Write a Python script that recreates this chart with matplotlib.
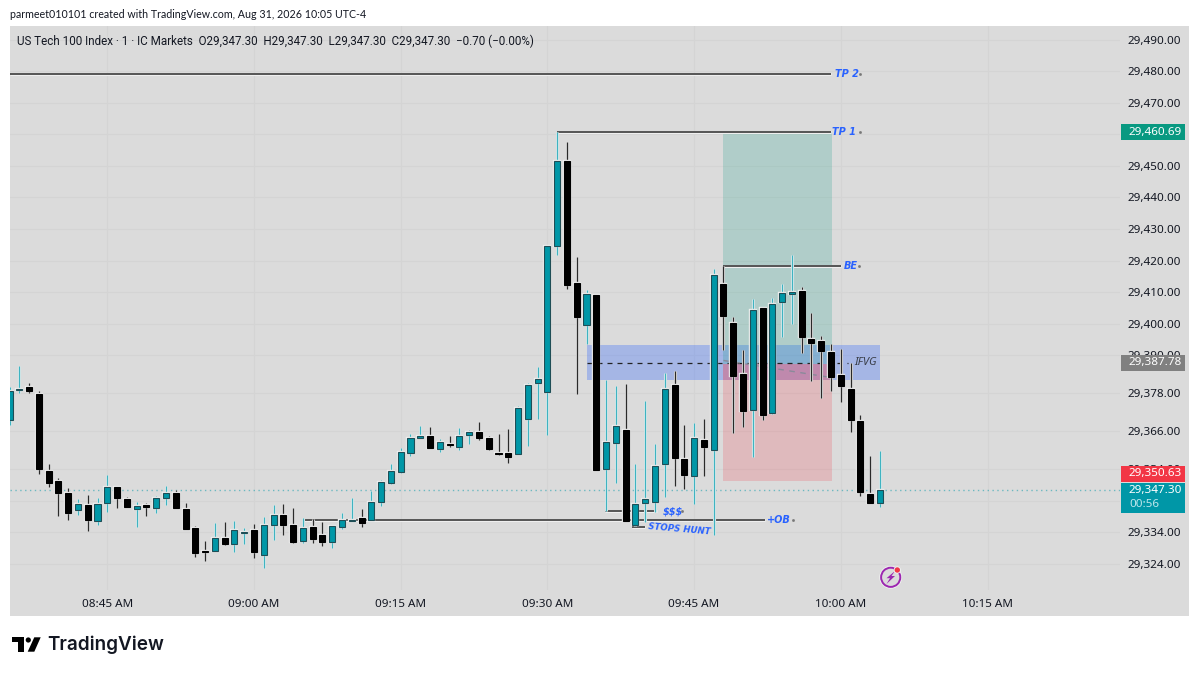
"""Grafico de candles do US Tech 100 com anotacoes, no estilo TradingView."""

import matplotlib

matplotlib.use("Agg")

import matplotlib.patheffects as pe
import matplotlib.pyplot as plt
import numpy as np
from matplotlib.patches import Circle, Polygon, Rectangle

plt.rcParams["font.family"] = ["Noto Sans", "DejaVu Sans"]

# Precos em pontos acima de 29.000, um candle por minuto a partir das 08:35.
first_minute = 515
opens = [
    369.4, 379.0, 379.9, 377.8, 353.5, 350.3, 346.4, 341.0, 342.6, 337.6,
    343.3, 348.2, 344.5, 341.5, 342.5, 341.8, 344.7, 346.4, 341.3, 335.3,
    328.1, 328.1, 332.3, 330.2, 333.8, 334.8, 326.7, 336.4, 339.6, 336.3,
    331.1, 335.7, 333.1, 330.9, 335.7, 337.6, 338.4, 337.8, 343.6, 349.7,
    353.0, 359.1, 363.7, 364.4, 360.5, 362.0, 361.1, 364.9, 365.7, 363.7,
    359.0, 359.1, 358.8, 369.8, 381.2, 378.3, 424.7, 451.7, 413.0, 399.6,
    409.2, 354.1, 362.4, 366.5, 336.2, 343.4, 343.7, 355.6, 380.6, 357.3,
    351.7, 363.2, 360.2, 412.5, 400.3, 384.0, 372.6, 404.9, 371.9, 406.9,
    409.4, 410.3, 395.3, 394.5, 391.0, 383.8, 379.4, 369.1, 346.1, 343.2,
]
highs = [
    380.1, 386.5, 381.1, 378.8, 355.5, 351.2, 347.9, 344.6, 345.8, 344.9,
    352.1, 348.2, 345.1, 343.7, 343.3, 345.4, 348.7, 347.5, 343.3, 336.0,
    331.2, 336.8, 337.2, 337.5, 335.2, 336.6, 338.7, 342.5, 342.9, 341.8,
    338.5, 338.1, 337.3, 336.0, 340.2, 344.8, 341.4, 347.0, 350.6, 355.5,
    360.8, 365.0, 367.5, 367.2, 363.6, 364.6, 366.9, 366.3, 368.8, 364.4,
    365.2, 366.7, 374.0, 381.4, 386.4, 425.1, 460.6, 457.6, 421.0, 410.8,
    409.2, 382.3, 380.2, 380.8, 355.6, 375.6, 361.8, 384.4, 385.0, 368.1,
    368.5, 370.0, 417.5, 418.2, 402.0, 391.8, 407.7, 404.9, 408.3, 412.7,
    421.8, 411.7, 403.3, 396.2, 393.6, 391.9, 387.7, 371.2, 358.1, 359.8,
]
lows = [
    368.1, 378.0, 378.0, 352.4, 348.3, 339.0, 338.0, 339.5, 334.3, 336.2,
    340.3, 341.8, 342.0, 335.6, 339.2, 340.1, 342.5, 341.8, 335.1, 326.3,
    324.9, 328.1, 330.1, 327.9, 330.4, 325.7, 322.7, 331.4, 333.0, 330.5,
    330.5, 330.5, 329.5, 329.0, 335.1, 337.6, 335.6, 337.8, 342.3, 349.3,
    352.8, 358.3, 363.7, 360.8, 359.4, 360.9, 360.0, 361.9, 363.1, 360.0,
    358.4, 356.0, 358.8, 361.4, 369.7, 364.8, 421.8, 411.1, 377.8, 393.5,
    353.8, 340.6, 349.5, 337.6, 336.0, 337.4, 340.3, 345.3, 348.7, 347.7,
    343.1, 351.7, 333.2, 391.6, 365.4, 367.2, 357.7, 369.6, 371.4, 395.7,
    399.8, 390.7, 381.8, 376.4, 378.7, 375.2, 365.7, 345.5, 343.2, 341.9,
]
closes = [
    378.8, 379.5, 378.8, 354.0, 349.6, 346.4, 340.2, 342.8, 337.9, 343.0,
    348.4, 344.7, 342.1, 342.3, 341.9, 344.7, 346.4, 341.8, 335.1, 327.5,
    327.8, 332.3, 330.2, 334.6, 334.2, 327.7, 336.3, 339.4, 336.4, 330.8,
    335.2, 332.0, 330.9, 336.0, 337.9, 337.9, 337.0, 343.6, 350.0, 353.5,
    359.3, 364.0, 364.5, 360.8, 362.5, 361.5, 364.4, 365.9, 364.0, 360.3,
    358.7, 357.8, 373.4, 380.7, 382.4, 424.5, 451.5, 412.2, 402.1, 409.4,
    353.8, 362.6, 367.7, 337.6, 342.9, 344.6, 354.9, 379.2, 357.5, 352.2,
    363.9, 360.9, 415.3, 402.5, 383.5, 372.5, 404.5, 371.2, 406.4, 409.6,
    410.2, 395.7, 394.0, 391.4, 383.1, 380.2, 369.5, 346.6, 343.2, 347.3,
]

price_ticks = [
    29490, 29480, 29470, 29460, 29450, 29440, 29430, 29420, 29410, 29400,
    29390, 29378, 29366, 29354, 29344, 29334, 29324,
]
time_ticks = [525, 540, 555, 570, 585, 600, 615]
time_labels = ["08:45 AM", "09:00 AM", "09:15 AM", "09:30 AM", "09:45 AM", "10:00 AM", "10:15 AM"]
bold_times = ["09:00 AM", "10:00 AM"]

# Niveis desenhados sobre o grafico.
tp2_price = 29479.2
tp1_price = 29460.69
be_price = 29418.3
entry_price = 29387.2
stop_price = 29350.1
zone_top = 29393.3
zone_bottom = 29382.3
zone_mid = 29387.7
ob_price = 29337.9
sss_price = 29340.6
hunt_price = 29335.8
last_price = 29347.30

TEAL = "#0097A7"
BLUE_TEXT = "#2962FF"
PANEL = "#DBDBDB"
GRID = "#D4D4D4"
LINE = "#3A3A3A"
W, H = 1199, 674


def px_rect(left, top, right, bottom):
    """Converte limites em pixels da imagem para o retangulo da figura."""
    return [left / W, 1 - bottom / H, (right - left) / W, (bottom - top) / H]


def halo(width):
    """Contorno claro em volta das marcas, como no print original."""
    return [pe.withStroke(linewidth=width, foreground="#EFEFEF")]


fig = plt.figure(figsize=(W / 100, H / 100), dpi=100, facecolor="white")
fig.patches.append(Rectangle((10 / W, 1 - 616 / H), 1179 / W, 590 / H, transform=fig.transFigure, facecolor=PANEL, edgecolor="none", zorder=-1))

ax = fig.add_axes(px_rect(10, 26, 1120, 589.5))
ax.set_facecolor("none")
ax.set_xlim(525 + (10 - 107.3) / 9.78, 525 + (1120 - 107.3) / 9.78)
ax.set_ylim(29315.87, 29494.3)
for spine in ax.spines.values():
    spine.set_visible(False)

ax.yaxis.tick_right()
ax.set_yticks(price_ticks)
ax.set_yticklabels([f"{tick:,.2f}" for tick in price_ticks])
ax.set_xticks(time_ticks)
ax.set_xticklabels(time_labels)
ax.tick_params(axis="y", length=0, pad=5.5, labelsize=8.4, labelcolor="#131722")
ax.tick_params(axis="x", length=0, pad=6.5, labelsize=8.4, labelcolor="#131722")
for label in ax.get_xticklabels():
    if label.get_text() in bold_times:
        label.set_fontweight("bold")
ax.grid(True, color=GRID, linewidth=0.8)
ax.set_axisbelow(True)

# Zona IFVG e ferramenta de posicao, embaixo dos candles.
ax.add_patch(Rectangle((574.1, zone_bottom), 604 - 574.1, zone_top - zone_bottom, facecolor="#2962FF", alpha=0.3, edgecolor="none", zorder=1))
ax.add_patch(Rectangle((588, entry_price), 11.1, tp1_price - entry_price, facecolor="#089981", alpha=0.2, edgecolor="none", zorder=1.1))
ax.add_patch(Rectangle((588, stop_price), 11.1, entry_price - stop_price, facecolor="#F23645", alpha=0.2, edgecolor="none", zorder=1.1))
ax.add_patch(Rectangle((588, zone_bottom), 11.1, entry_price - zone_bottom, facecolor="#F23645", alpha=0.18, edgecolor="none", zorder=1.2))

ax.plot([574.1, 600.7], [zone_mid, zone_mid], color="#222222", linewidth=0.9, linestyle=(0, (4, 4)), zorder=1.5)
ax.plot([588, 599], [29388.4, 29383.0], color="#8A8A9A", linewidth=1, linestyle=(0, (4, 4)), zorder=1.5)
ax.axhline(last_price, color=TEAL, linewidth=1, linestyle=(0, (1, 2.5)), alpha=0.5, zorder=1.5)

# Linhas horizontais dos alvos e niveis.
levels = [
    (515, 599, tp2_price),
    (571, 599, tp1_price),
    (588, 600, be_price),
    (545, 592.2, ob_price),
    (575.9, 581.2, sss_price),
    (578.6, 580, hunt_price),
]
for start, end, price in levels:
    ax.plot([start, end], [price, price], color=LINE, linewidth=1.2, solid_capstyle="butt", zorder=2, path_effects=halo(2.2))

# Candles: pavios primeiro, corpos por cima.
minutes = first_minute + np.arange(len(opens))
open_prices = 29000 + np.array(opens)
high_prices = 29000 + np.array(highs)
low_prices = 29000 + np.array(lows)
close_prices = 29000 + np.array(closes)
is_up = close_prices >= open_prices

wick_colors = ["#3FB3C1" if up else "#2A2A2A" for up in is_up]
ax.vlines(minutes, low_prices, high_prices, colors=wick_colors, linewidth=1, zorder=3, path_effects=halo(2.2))
body_colors = [TEAL if up else "#000000" for up in is_up]
edge_colors = ["#1F4E56" if up else "#000000" for up in is_up]
ax.bar(
    minutes,
    np.abs(close_prices - open_prices),
    bottom=np.minimum(open_prices, close_prices),
    width=0.62,
    color=body_colors,
    edgecolor=edge_colors,
    linewidth=0.8,
    zorder=4,
    path_effects=[pe.withStroke(linewidth=1.7, foreground="#EFEFEF")],
)

# Textos das anotacoes.
note_style = {"color": BLUE_TEXT, "fontfamily": "DejaVu Sans", "fontweight": "bold", "fontstyle": "italic", "va": "center", "ha": "left", "zorder": 6}
notes = [
    ("TP 2", 599.4, tp2_price, 602.0),
    ("TP 1", 599.1, tp1_price, 602.0),
    ("BE", 600.3, be_price, 601.9),
    ("+OB", 592.5, ob_price, 595.1),
    ("$$$", 581.8, sss_price, 583.8),
]
for text, x, price, dot_x in notes:
    ax.text(x, price, text, fontsize=7, **note_style)
    ax.plot([dot_x], [price], marker="s", markersize=0.9, color="#777777", zorder=6)
ax.text(580.3, 29335.66, "STOPS HUNT", fontsize=6.2, rotation=-5, rotation_mode="anchor", **note_style)
ax.text(601.4, zone_mid, "IFVG", color="#3A3F4A", fontsize=8, fontstyle="italic", va="center", ha="left", zorder=6)

# Etiquetas de preco na escala direita; a vermelha sobe para nao cobrir a ultima.
ax_scale = fig.add_axes(px_rect(1120.7, 26, 1185, 589.5), zorder=5)
ax_scale.set_facecolor("none")
ax_scale.set_xlim(0, 64.3)
ax_scale.set_ylim(ax.get_ylim())
ax_scale.axis("off")
tags = [
    (tp1_price, tp1_price, "#089981", 2.55, 2.55),
    (29387.78, 29387.6, "#808080", 2.55, 2.55),
    (29350.63, 29352.45, "#F23645", 2.55, 2.55),
    (last_price, last_price, TEAL, 2.3, 7.2),
]
for price, center, color, above, below in tags:
    ax_scale.add_patch(Rectangle((0, center - below), 64.3, above + below, facecolor=color, edgecolor="none"))
    ax_scale.text(8.2, center, f"{price:,.2f}", color="white", fontsize=8.4, va="center", ha="left")
ax_scale.text(8.2, last_price - 4.5, "00:56", color="#BFE6EB", fontsize=8.4, va="center", ha="left")

# Camada em pixels: cabecalho, legenda, logo e icone.
ax_px = fig.add_axes([0, 0, 1, 1], zorder=6)
ax_px.set_xlim(0, W)
ax_px.set_ylim(H, 0)
ax_px.axis("off")
ax_px.text(10, 14.5, "parmeet010101 created with TradingView.com, Aug 31, 2026 10:05 UTC-4", color="#131722", fontsize=7.7, fontfamily="Lato", va="center")
ax_px.text(17, 41, "US Tech 100 Index · 1 · IC Markets  O29,347.30  H29,347.30  L29,347.30  C29,347.30  −0.70 (−0.00%)", color="#131722", fontsize=8.4, fontfamily="Roboto", va="center")

ax_px.add_patch(Polygon([(12.3, 637.3), (24, 637.3), (24, 651.7), (18.3, 651.7), (18.3, 641.7), (12.3, 641.7)], facecolor="black", edgecolor="none"))
ax_px.add_patch(Circle((28.3, 640), 2.6, facecolor="black", edgecolor="none"))
ax_px.add_patch(Polygon([(34.3, 637.3), (40.7, 637.3), (34.3, 651.7), (27.7, 651.7)], facecolor="black", edgecolor="none"))
ax_px.text(47, 645, "TradingView", color="#131722", fontsize=13.6, fontfamily="Inter", fontweight="semibold", va="center")

ax_px.add_patch(Circle((890.7, 577.3), 11.4, facecolor="#F2F2F2", edgecolor="none"))
ax_px.add_patch(Circle((890.7, 577.3), 9.6, facecolor=PANEL, edgecolor="#9C27B0", linewidth=1.4))
ax_px.add_patch(Polygon([(895, 571), (886.5, 578.2), (890, 578.2), (886.5, 584), (895, 576), (891.5, 576)], facecolor="#9C27B0", edgecolor="none"))
ax_px.add_patch(Circle((897.3, 570), 3.6, facecolor="#F2F2F2", edgecolor="none"))
ax_px.add_patch(Circle((897.3, 570), 2.7, facecolor="#F23645", edgecolor="none"))

fig.savefig("out.png", dpi=100)
